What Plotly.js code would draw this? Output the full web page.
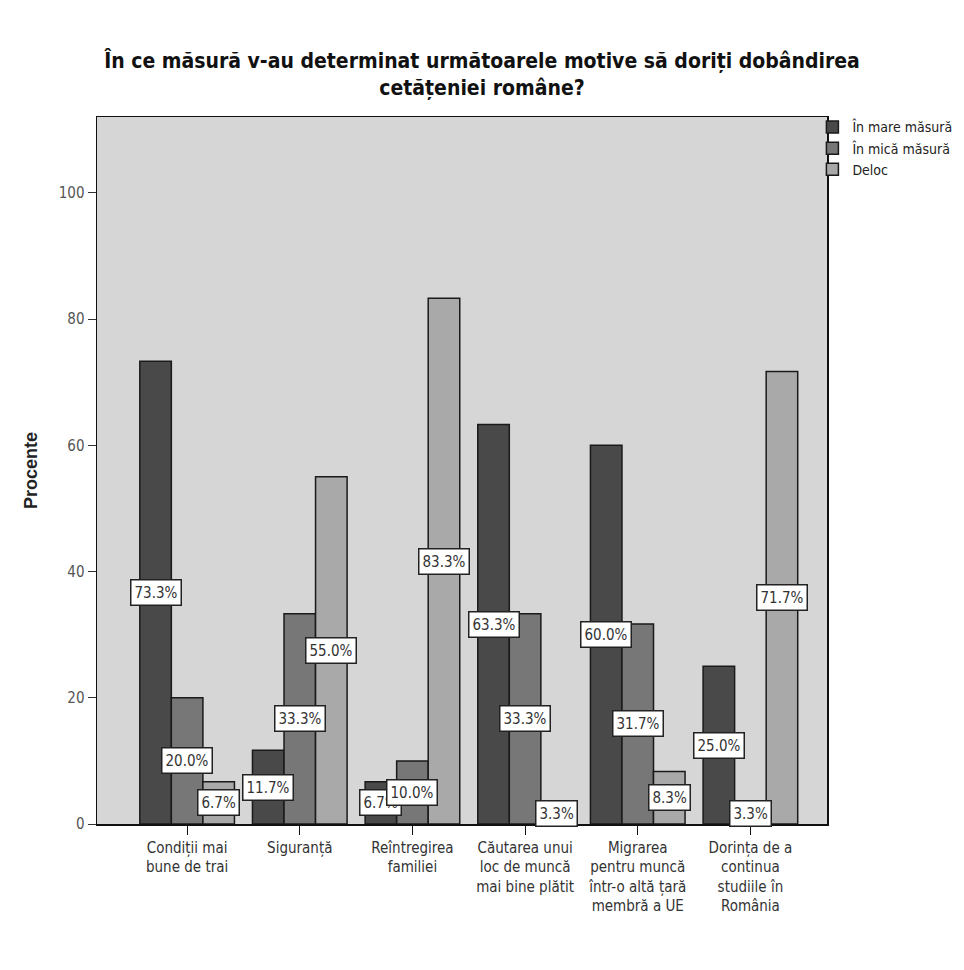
<!DOCTYPE html>
<html><head><meta charset="utf-8">
<script src="https://cdn.plot.ly/plotly-3.0.1.min.js"></script>
<style>body{margin:0;background:#fff}</style>
</head><body><div id="chart" style="width:964px;height:970px"></div>
<script>
const categories = [
  "Condiții mai<br>bune de trai",
  "Siguranță",
  "Reîntregirea<br>familiei",
  "Căutarea unui<br>loc de muncă<br>mai bine plătit",
  "Migrarea<br>pentru muncă<br>într-o altă țară<br>membră a UE",
  "Dorința de a<br>continua<br>studiile în<br>România"
];
const seriesNames = ["În mare măsură", "În mică măsură", "Deloc"];
const mareMasura = [73.3, 11.7, 6.7, 63.3, 60.0, 25.0];
const micaMasura = [20.0, 33.3, 10.0, 33.3, 31.7, 3.3];
const deloc = [6.7, 55.0, 83.3, 3.3, 8.3, 71.7];
const yTicks = [0, 20, 40, 60, 80, 100];

const FONT = "DejaVu Sans Condensed, Liberation Sans, Arial";
const colors = ["#494949", "#777777", "#a9a9a9"];
const allSeries = [mareMasura, micaMasura, deloc];
const idx = categories.map((c, i) => i);
const bargap = 0.16;
const w = (1 - bargap) / 3;

const traces = allSeries.map((vals, s) => ({
  type: "bar",
  name: seriesNames[s],
  x: idx,
  y: vals,
  marker: {color: colors[s], line: {color: "#1a1a1a", width: 1.5}},
  hoverinfo: "none"
}));

const annotations = [];
allSeries.forEach((vals, s) => {
  vals.forEach((v, i) => {
    annotations.push({
      x: i + (s - 1) * w, y: v / 2, xref: "x", yref: "y",
      text: v.toFixed(1) + "%", showarrow: false,
      bgcolor: "#ffffff", bordercolor: "#222", borderwidth: 1.5, borderpad: 3,
      font: {family: FONT, size: 15, color: "#333"}
    });
  });
});

const layout = {
  width: 964, height: 970,
  margin: {l: 97, r: 137, t: 117, b: 146, autoexpand: false},
  paper_bgcolor: "#ffffff",
  plot_bgcolor: "#d6d6d6",
  title: {
    text: "<b>În ce măsură v-au determinat următoarele motive să doriți dobândirea<br>cetățeniei române?</b>",
    font: {family: FONT, size: 21, color: "#111"},
    x: 0.5, xanchor: "center", y: 0.93, yanchor: "bottom"
  },
  barmode: "group",
  bargap: bargap,
  bargroupgap: 0,
  showlegend: true,
  legend: {
    x: 0.98, xanchor: "left", y: 1.008, yanchor: "top",
    font: {family: FONT, size: 14, color: "#222"},
    tracegroupgap: 0, itemwidth: 30, bgcolor: "rgba(0,0,0,0)"
  },
  xaxis: {
    tickmode: "array", tickvals: idx, ticktext: categories,
    range: [-0.8, 5.68],
    showline: true, linecolor: "#111", linewidth: 1.5, mirror: true,
    ticks: "outside", ticklen: 9, tickcolor: "#111",
    showgrid: false, zeroline: false,
    tickfont: {family: FONT, size: 15, color: "#333"}
  },
  yaxis: {
    range: [0, 112],
    tickmode: "array", tickvals: yTicks,
    showline: true, linecolor: "#111", linewidth: 1.5, mirror: true,
    ticks: "outside", ticklen: 8, tickcolor: "#333",
    showgrid: false, zeroline: false,
    tickfont: {family: FONT, size: 15, color: "#555"},
    title: {text: "<b>Procente</b>", font: {family: "Liberation Sans, Arial", size: 18, color: "#222"}, standoff: 16}
  },
  annotations: annotations
};

Plotly.newPlot("chart", traces, layout, {displayModeBar: false, staticPlot: true});
</script></body></html>
